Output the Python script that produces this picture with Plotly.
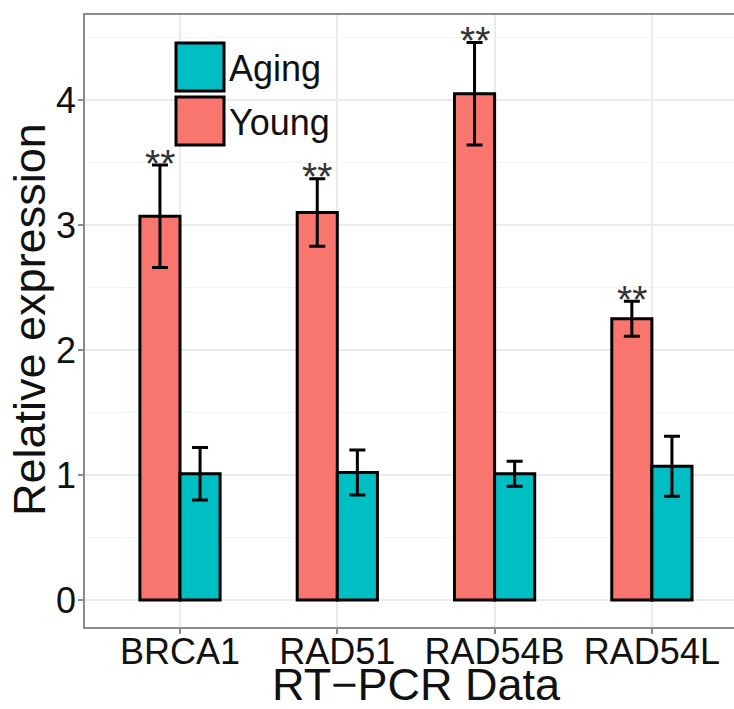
import plotly.graph_objects as go

genes = ["BRCA1", "RAD51", "RAD54B", "RAD54L"]
series = ["Young", "Aging"]
young = [3.07, 3.10, 4.05, 2.25]
young_err = [0.41, 0.27, 0.41, 0.14]
aging = [1.01, 1.02, 1.01, 1.07]
aging_err = [0.21, 0.18, 0.10, 0.24]
signif = ["**", "**", "**", "**"]
colors = {"Young": "#F8766D", "Aging": "#00BFC4"}

FONT = "Liberation Sans, Arial, sans-serif"
BW = 0.255
xs = list(range(len(genes)))

fig = go.Figure()
for name, vals, errs, off in [("Young", young, young_err, -BW), ("Aging", aging, aging_err, 0.0)]:
    fig.add_trace(go.Bar(
        x=xs, y=vals, name=name, width=BW, offset=off,
        marker=dict(color=colors[name], line=dict(color="black", width=3)),
        error_y=dict(type="data", array=errs, visible=True, color="black", thickness=3, width=8),
        showlegend=False,
    ))

for i, (v, e, s) in enumerate(zip(young, young_err, signif)):
    fig.add_annotation(x=i - BW / 2, y=v + e, text=s, showarrow=False,
                       yanchor="middle", yshift=2,
                       font=dict(family=FONT, size=39, color="#333333"))

# legend drawn manually (large keys like ggplot)
L, T, PW, PH = 85, 15, 649, 612
def px2paper(x, y):
    return (x - L) / PW, (T + PH - y) / PH
legend_items = [("Aging", 43), ("Young", 97)]
for name, top in legend_items:
    x0, y1 = px2paper(176, top)
    x1, y0 = px2paper(224, top + 48)
    fig.add_shape(type="rect", xref="paper", yref="paper", x0=x0, x1=x1, y0=y0, y1=y1,
                  fillcolor=colors[name], line=dict(color="black", width=3))
    tx, ty = px2paper(227, top + 25)
    fig.add_annotation(xref="paper", yref="paper", x=tx, y=ty, text=name, showarrow=False,
                       xanchor="left", yanchor="middle",
                       font=dict(family=FONT, size=36, color="#111111"))

# axis titles
ax, ay = px2paper(416, 709)
fig.add_annotation(xref="paper", yref="paper", x=ax, y=ay, text="RT\u2212PCR Data", showarrow=False,
                   xanchor="center", yanchor="bottom", yshift=-2, borderpad=0,
                   font=dict(family=FONT, size=45, color="#111111"))
bx, by = px2paper(29, 320)
fig.add_annotation(xref="paper", yref="paper", x=bx, y=by, text="Relative expression", showarrow=False,
                   xanchor="center", yanchor="middle", textangle=-90,
                   font=dict(family=FONT, size=45, color="#111111"))

fig.update_layout(
    width=734, height=709,
    margin=dict(l=L, r=0, t=T, b=709 - T - PH),
    plot_bgcolor="white", paper_bgcolor="white",
    barmode="overlay",
    font=dict(family=FONT, color="#111111"),
)
fig.update_xaxes(
    range=[-0.604, 3.522], tickvals=xs, ticktext=genes, automargin=False,
    tickfont=dict(size=36, color="#111111"), ticklabelstandoff=-13,
    showgrid=True, gridcolor="#ebebeb", gridwidth=1.5,
    showline=True, linecolor="#8c8c8c", linewidth=1.5, mirror=True,
    ticks="outside", ticklen=5, tickcolor="#8c8c8c", tickwidth=1.5,
    zeroline=False,
)
fig.update_yaxes(
    range=[-0.216, 4.68], tickvals=[0, 1, 2, 3, 4], automargin=False,
    tickfont=dict(size=36, color="#111111"), ticklabelstandoff=-5,
    showgrid=True, gridcolor="#ebebeb", gridwidth=1.5,
    minor=dict(dtick=0.5, showgrid=True, gridcolor="#f4f4f4", gridwidth=1.2),
    showline=True, linecolor="#8c8c8c", linewidth=1.5,
    ticks="outside", ticklen=5, tickcolor="#8c8c8c", tickwidth=1.5,
    zeroline=False,
)

fig.write_html("out.html")
